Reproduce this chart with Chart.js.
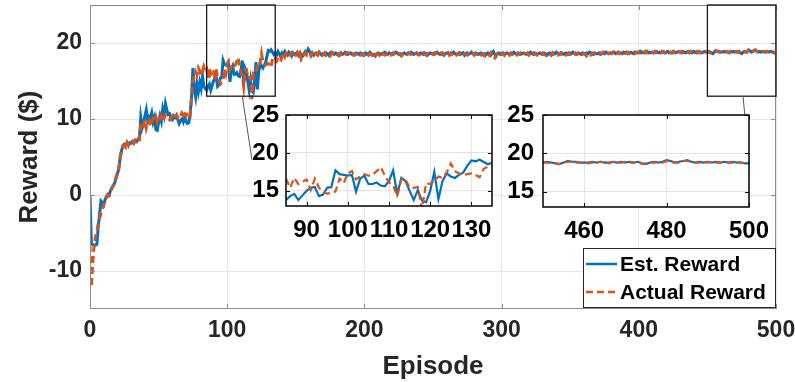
<!DOCTYPE html>
<html>
<head>
<meta charset="utf-8">
<script src="https://cdn.jsdelivr.net/npm/chart.js@4.4.0/dist/chart.umd.min.js"></script>
<style>
  html, body { margin: 0; padding: 0; background: #fff; }
  #wrap { position: relative; width: 795px; height: 382px; overflow: hidden; }
  canvas { position: absolute; }
</style>
</head>
<body>
<div id="wrap">
  <canvas id="main" width="795" height="382" style="left:0;top:0"></canvas>
  <canvas id="inset1" width="270" height="160" style="left:230px;top:90px"></canvas>
  <canvas id="inset2" width="315" height="160" style="left:480px;top:90px"></canvas>
</div>
<script>
// reward per episode (0..500)
const estReward = [
  0, -6.4, -6.5, -6.6, -6.6, -6.5, -4.2, -2.5, -0.8, -1.0,
  -1.3, -0.6, -0.2, 0.1, 0.0, 0.6, 1.0, 1.2, 1.6, 2.2,
  2.8, 3.4, 4.9, 5.8, 6.5, 6.7, 6.6, 6.8, 6.7, 6.9,
  6.8, 7.0, 6.9, 7.1, 7.0, 7.3, 7.4, 10.2, 8.9, 9.6,
  10.4, 11.2, 9.8, 10.3, 10.1, 10.8, 9.6, 10.2, 8.6, 8.5,
  9.5, 10.4, 9.7, 11.3, 10.5, 12.0, 11.2, 10.6, 10.7, 10.1,
  9.9, 10.4, 10.2, 10.5, 9.9, 9.4, 9.8, 10.0, 9.6, 10.3,
  9.7, 9.4, 9.5, 10.7, 12.8, 16.7, 13.9, 12.9, 14.6, 13.6,
  14.8, 14.0, 15.6, 14.3, 14.0, 13.8, 14.3, 14.6, 13.8, 14.4,
  15.0, 15.4, 15.5, 14.3, 14.5, 15.4, 15.5, 17.7, 17.2, 17.1,
  17.0, 17.1, 14.9, 16.6, 17.0, 15.9, 15.9, 16.1, 15.7, 15.6,
  16.3, 17.7, 14.6, 16.7, 16.3, 15.0, 13.8, 15.1, 13.7, 13.5,
  15.0, 17.5, 13.9, 16.3, 17.3, 16.9, 16.7, 17.1, 17.4, 18.3,
  19.0, 18.9, 19.1, 18.8, 18.5, 18.7, 18.4, 18.9, 18.6, 18.2,
  18.7, 18.5, 18.9, 18.6, 18.4, 18.8, 18.6, 18.3, 18.7, 18.5,
  18.6, 18.8, 18.4, 18.7, 18.5, 18.3, 18.6, 18.9, 18.8, 19.2,
  18.9, 18.5, 18.7, 18.4, 18.6, 18.7, 18.5, 18.8, 18.6, 18.4,
  18.6, 18.5, 18.7, 18.6, 18.4, 18.7, 18.8, 18.6, 18.5, 18.7,
  18.6, 18.4, 18.6, 18.7, 18.5, 18.6, 18.8, 18.7, 18.5, 18.6,
  18.7, 18.5, 18.4, 18.6, 18.7, 18.6, 18.5, 18.7, 18.6, 18.4,
  18.6, 18.7, 18.5, 18.6, 18.8, 18.6, 18.4, 18.5, 18.3, 18.6,
  18.7, 18.6, 18.5, 18.6, 18.7, 18.8, 18.6, 18.5, 18.7, 18.6,
  18.5, 18.7, 18.6, 18.8, 18.7, 18.5, 18.6, 18.4, 18.6, 18.7,
  18.6, 18.5, 18.7, 18.6, 18.8, 18.7, 18.5, 18.6, 18.7, 18.5,
  18.6, 18.7, 18.6, 18.5, 18.7, 18.6, 18.4, 18.6, 18.7, 18.6,
  18.5, 18.7, 18.6, 18.8, 18.6, 18.5, 18.7, 18.6, 18.4, 18.6,
  18.7, 18.6, 18.5, 18.7, 18.6, 18.8, 18.6, 18.5, 18.6, 18.7,
  18.5, 18.6, 18.7, 18.4, 18.6, 18.7, 18.5, 18.6, 18.8, 18.6,
  18.5, 18.7, 18.6, 18.5, 18.6, 18.7, 18.6, 18.4, 18.6, 18.5,
  18.7, 18.6, 18.4, 18.7, 18.9, 18.5, 18.3, 18.6, 18.7, 18.5,
  18.6, 18.7, 18.5, 18.6, 18.7, 18.6, 18.5, 18.7, 18.6, 18.8,
  18.6, 18.5, 18.7, 18.6, 18.5, 18.6, 18.7, 18.6, 18.5, 18.7,
  18.6, 18.8, 18.6, 18.5, 18.7, 18.6, 18.5, 18.6, 18.7, 18.6,
  18.5, 18.7, 18.6, 18.4, 18.6, 18.7, 18.6, 18.5, 18.7, 18.6,
  18.8, 18.6, 18.5, 18.7, 18.6, 18.5, 18.6, 18.7, 18.6, 18.5,
  18.7, 18.6, 18.8, 18.6, 18.5, 18.6, 18.7, 18.6, 18.5, 18.7,
  18.6, 18.5, 18.7, 18.6, 18.8, 18.7, 18.6, 18.5, 18.7, 18.6,
  18.6, 18.7, 18.5, 18.6, 18.7, 18.6, 18.8, 18.7, 18.6, 18.7,
  18.6, 18.7, 18.8, 18.6, 18.7, 18.8, 18.6, 18.7, 18.6, 18.8,
  18.7, 18.8, 18.6, 18.7, 18.8, 18.7, 18.6, 18.8, 18.7, 18.8,
  18.7, 18.9, 18.7, 18.8, 18.7, 18.8, 18.9, 18.7, 18.8, 18.7,
  18.8, 18.7, 18.9, 18.8, 18.7, 18.8, 18.7, 18.9, 18.8, 18.7,
  18.8, 18.9, 18.7, 18.8, 18.7, 18.9, 18.8, 18.7, 18.8, 18.9,
  18.8, 18.7, 18.9, 18.8, 18.7, 18.8, 18.9, 18.7, 18.8, 18.7,
  18.9, 18.8, 18.7, 18.8, 18.9, 18.8, 18.7, 18.8, 18.9, 18.8,
  18.8, 18.9, 18.8, 18.7, 18.6, 18.8, 19.0, 18.9, 18.9, 18.8,
  18.8, 18.8, 18.9, 18.8, 18.9, 18.8, 18.8, 18.9, 18.8, 18.9,
  18.8, 18.9, 18.8, 18.9, 18.7, 18.6, 18.8, 18.9, 18.8, 18.9,
  19.1, 19.0, 18.8, 18.9, 19.0, 19.1, 18.9, 18.8, 18.9, 18.8,
  18.9, 18.8, 18.9, 18.8, 18.9, 18.8, 18.9, 18.8, 18.8, 18.7,
  18.7
];

const actualReward = [
  -6.6, -12.1, -9.0, -6.6, -5.5, -4.8, -3.7, -3.1, -2.4, -1.8,
  -1.2, -0.8, -0.4, 0.0, -0.1, 0.5, 0.9, 1.3, 1.7, 2.3,
  2.9, 3.6, 5.0, 6.0, 6.4, 6.6, 6.3, 6.9, 6.5, 7.0,
  6.9, 7.1, 6.8, 7.2, 7.0, 7.4, 7.3, 9.3, 9.6, 9.2,
  9.9, 8.8, 9.5, 9.8, 9.0, 9.7, 10.1, 9.9, 10.3, 9.6,
  10.2, 10.0, 10.4, 9.8, 10.1, 10.6, 10.3, 10.1, 9.9, 10.2,
  10.4, 10.0, 10.3, 10.5, 10.2, 10.6, 10.4, 10.8, 10.5, 11.0,
  10.4, 10.9, 10.7, 10.5, 12.9, 15.0, 15.6, 16.2, 15.8, 16.7,
  16.3, 15.7, 16.2, 16.9, 16.4, 16.6, 15.4, 16.7, 15.9, 16.2,
  16.5, 15.1, 16.6, 15.4, 15.0, 14.6, 14.8, 14.9, 16.6, 16.0,
  17.3, 17.6, 16.5, 16.9, 17.2, 17.0, 17.1, 17.6, 18.1, 17.0,
  16.1, 15.7, 14.3, 16.5, 16.5, 15.4, 15.4, 15.5, 12.6, 16.0,
  15.9, 16.3, 16.9, 16.7, 17.4, 18.6, 17.6, 17.3, 17.1, 17.2,
  17.3, 17.1, 16.8, 17.9, 18.2, 18.2, 17.6, 17.8, 17.5, 17.6,
  18.3, 18.6, 18.2, 18.7, 18.5, 18.1, 18.4, 18.7, 18.3, 18.6,
  18.4, 18.7, 18.2, 18.6, 17.8, 18.0, 18.5, 18.7, 18.4, 18.6,
  18.6, 18.3, 18.7, 18.5, 18.2, 18.6, 18.4, 18.7, 18.5, 18.3,
  18.5, 18.7, 18.4, 18.6, 18.5, 18.3, 18.6, 18.7, 18.4, 18.6,
  18.5, 18.6, 18.4, 18.7, 18.5, 18.4, 18.6, 18.5, 18.7, 18.4,
  18.6, 18.5, 18.6, 18.4, 18.5, 18.7, 18.6, 18.4, 18.5, 18.6,
  18.4, 18.5, 18.7, 18.4, 18.6, 18.5, 18.3, 18.0, 18.4, 18.5,
  18.6, 18.4, 18.7, 18.5, 18.6, 18.4, 18.5, 18.7, 18.5, 18.4,
  18.6, 18.5, 18.7, 18.6, 18.4, 18.6, 18.5, 18.3, 18.5, 18.6,
  18.5, 18.4, 18.6, 18.7, 18.5, 18.6, 18.4, 18.5, 18.7, 18.5,
  18.4, 18.6, 18.5, 18.7, 18.5, 18.4, 18.6, 18.5, 18.6, 18.4,
  18.6, 18.5, 18.7, 18.5, 18.4, 18.6, 18.5, 18.7, 18.5, 18.4,
  18.5, 18.7, 18.4, 18.6, 18.5, 18.7, 18.5, 18.4, 18.6, 18.5,
  18.7, 18.5, 18.4, 18.6, 18.5, 18.4, 18.6, 18.7, 18.5, 18.6,
  18.4, 18.6, 18.5, 18.7, 18.5, 18.4, 18.6, 18.5, 18.3, 18.5,
  18.6, 18.4, 18.7, 18.2, 17.9, 18.0, 18.4, 18.6, 18.5, 18.7,
  18.5, 18.6, 18.4, 18.7, 18.5, 18.6, 18.4, 18.6, 18.5, 18.7,
  18.5, 18.4, 18.6, 18.5, 18.7, 18.5, 18.4, 18.6, 18.5, 18.6,
  18.4, 18.6, 18.5, 18.7, 18.5, 18.6, 18.4, 18.5, 18.6, 18.5,
  18.7, 18.5, 18.4, 18.6, 18.5, 18.6, 18.4, 18.7, 18.5, 18.6,
  18.5, 18.4, 18.6, 18.5, 18.7, 18.5, 18.6, 18.4, 18.5, 18.7,
  18.5, 18.6, 18.4, 18.5, 18.7, 18.5, 18.6, 18.4, 18.6, 18.5,
  18.6, 18.5, 18.3, 18.5, 18.6, 18.4, 18.5, 18.7, 18.6, 18.5,
  18.6, 18.5, 18.7, 18.6, 18.8, 18.6, 18.7, 18.5, 18.6, 18.7,
  18.6, 18.8, 18.6, 18.7, 18.6, 18.8, 18.7, 18.6, 18.8, 18.7,
  18.6, 18.7, 18.8, 18.6, 18.7, 18.8, 18.7, 18.6, 18.8, 18.7,
  18.8, 18.7, 18.6, 18.8, 18.7, 18.9, 18.7, 18.8, 18.7, 18.6,
  18.8, 18.7, 18.8, 18.9, 18.7, 18.8, 18.7, 18.8, 18.9, 18.7,
  18.8, 18.7, 18.9, 18.7, 18.8, 18.7, 18.9, 18.8, 18.7, 18.8,
  18.9, 18.8, 18.7, 18.8, 18.9, 18.7, 18.8, 18.7, 18.9, 18.8,
  18.7, 18.8, 18.9, 18.7, 18.8, 18.7, 18.9, 18.8, 18.7, 18.8,
  18.8, 18.8, 18.7, 18.7, 18.6, 18.8, 18.9, 18.9, 18.8, 18.8,
  18.8, 18.7, 18.8, 18.8, 18.9, 18.8, 18.7, 18.9, 18.8, 18.8,
  18.9, 18.8, 18.8, 18.9, 18.6, 18.7, 18.8, 18.8, 18.9, 18.8,
  19.0, 18.9, 18.8, 18.8, 19.0, 19.0, 18.9, 18.8, 18.8, 18.9,
  18.8, 18.9, 18.8, 18.8, 18.9, 18.8, 18.8, 18.9, 18.8, 18.7,
  18.8
];

const seriesLabels = ['Est. Reward', 'Actual Reward'];
const mainXTicks = [0, 100, 200, 300, 400, 500];
const mainYTicks = [-10, 0, 10, 20];
const zoomY = [13, 25];
const inset1X = [85, 135];
const inset2X = [450, 500];
const inset1XTicks = [90, 100, 110, 120, 130];
const inset2XTicks = [460, 480, 500];
const insetYTicks = [15, 20, 25];

const BLUE = '#0072BD';
const ORANGE = '#D95319';
const FONT = "'Liberation Sans', Arial, Helvetica, sans-serif";

const toPoints = (arr, lo, hi) => {
    const pts = [];
    for (let i = 0; i < arr.length; i++) {
        if (lo === undefined || (i >= lo && i <= hi)) pts.push({x: i, y: arr[i]});
    }
    return pts;
};

const setTicks = (vals) => (scale) => { scale.ticks = vals.map(v => ({value: v})); };

// fixed axis size, and no extra room for edge labels (chart area comes from layout padding)
const fixSize = (w, h) => (s) => {
    if (w !== null) s.width = w;
    if (h !== null) s.height = h;
    s.paddingTop = 0; s.paddingBottom = 0; s.paddingLeft = 0; s.paddingRight = 0;
};

// axes box, inner tick marks, zoom windows, connectors and legend
const mainDecor = {
    id: 'mainDecor',
    afterDraw(chart) {
        const {ctx, chartArea: a, scales: {x, y}} = chart;
        ctx.save();
        ctx.strokeStyle = '#8c8c8c';
        ctx.lineWidth = 1;
        ctx.beginPath();
        mainXTicks.forEach(v => {
            const px = Math.round(x.getPixelForValue(v)) + 0.5;
            ctx.moveTo(px, a.bottom); ctx.lineTo(px, a.bottom - 5);
            ctx.moveTo(px, a.top); ctx.lineTo(px, a.top + 5);
        });
        mainYTicks.forEach(v => {
            const py = Math.round(y.getPixelForValue(v)) + 0.5;
            ctx.moveTo(a.left, py); ctx.lineTo(a.left + 5, py);
            ctx.moveTo(a.right, py); ctx.lineTo(a.right - 5, py);
        });
        ctx.stroke();
        ctx.strokeRect(a.left + 0.5, a.top + 0.5, a.right - a.left - 1, a.bottom - a.top - 1);

        // zoom windows
        ctx.strokeStyle = '#1a1a1a';
        ctx.lineWidth = 1.3;
        [inset1X, inset2X].forEach(r => {
            const x0 = x.getPixelForValue(r[0]), x1 = x.getPixelForValue(r[1]);
            const y0 = y.getPixelForValue(zoomY[1]), y1 = y.getPixelForValue(zoomY[0]);
            ctx.strokeRect(x0, y0, x1 - x0, y1 - y0);
        });
        // connectors to insets
        ctx.strokeStyle = '#555';
        ctx.lineWidth = 1;
        ctx.beginPath();
        ctx.moveTo(x.getPixelForValue(111), y.getPixelForValue(zoomY[0]));
        ctx.lineTo(252, 160);
        ctx.moveTo(x.getPixelForValue(476), y.getPixelForValue(zoomY[0]));
        ctx.lineTo(749, 162);
        ctx.stroke();

        // legend
        const lw = 193, lh = 60;
        const lx = a.right - lw, ly = a.bottom - lh - 1;
        ctx.fillStyle = '#fff';
        ctx.fillRect(lx, ly, lw, lh);
        ctx.strokeStyle = '#262626';
        ctx.lineWidth = 1;
        ctx.strokeRect(lx + 0.5, ly + 0.5, lw - 1, lh - 1);
        chart.data.datasets.forEach((ds, i) => {
            const cy = ly + 16 + i * 28;
            ctx.beginPath();
            ctx.strokeStyle = ds.borderColor;
            ctx.lineWidth = 2.5;
            ctx.setLineDash(ds.borderDash || []);
            ctx.moveTo(lx + 3, cy); ctx.lineTo(lx + 34, cy);
            ctx.stroke();
            ctx.setLineDash([]);
            ctx.fillStyle = '#000';
            ctx.font = 'bold 21px ' + FONT;
            ctx.textBaseline = 'middle';
            ctx.textAlign = 'left';
            ctx.fillText(ds.label, lx + 37, cy + 1);
        });
        ctx.restore();
    }
};

const insetDecor = {
    id: 'insetDecor',
    beforeDraw(chart) {
        const {ctx, chartArea: a} = chart;
        ctx.save();
        ctx.fillStyle = '#fff';
        ctx.fillRect(a.left, a.top, a.right - a.left, a.bottom - a.top);
        ctx.restore();
    },
    afterDraw(chart) {
        const {ctx, chartArea: a, scales: {x, y}} = chart;
        ctx.save();
        ctx.strokeStyle = '#000';
        ctx.lineWidth = 1;
        ctx.beginPath();
        x.ticks.forEach(t => {
            const px = Math.round(x.getPixelForValue(t.value)) + 0.5;
            ctx.moveTo(px, a.bottom); ctx.lineTo(px, a.bottom - 4);
            ctx.moveTo(px, a.top); ctx.lineTo(px, a.top + 4);
        });
        y.ticks.forEach(t => {
            const py = Math.round(y.getPixelForValue(t.value)) + 0.5;
            ctx.moveTo(a.left, py); ctx.lineTo(a.left + 4, py);
            ctx.moveTo(a.right, py); ctx.lineTo(a.right - 4, py);
        });
        ctx.stroke();
        ctx.lineWidth = 1.5;
        ctx.strokeRect(a.left, a.top, a.right - a.left, a.bottom - a.top);
        ctx.restore();
    }
};

const makeDatasets = (lo, hi, width) => [
    {label: seriesLabels[0], data: toPoints(estReward, lo, hi), borderColor: BLUE, borderWidth: width,
     pointRadius: 0, tension: 0, order: 2},
    {label: seriesLabels[1], data: toPoints(actualReward, lo, hi), borderColor: ORANGE, borderWidth: width,
     borderDash: [7, 4], pointRadius: 0, tension: 0, order: 1}
];

new Chart(document.getElementById('main'), {
    type: 'line',
    data: {datasets: makeDatasets(undefined, undefined, 3)},
    options: {
        responsive: false,
        animation: false,
        layout: {padding: {top: 5, right: 19, left: 0, bottom: 0}},
        plugins: {legend: {display: false}, tooltip: {enabled: false}},
        scales: {
            x: {
                type: 'linear', min: 0, max: 500,
                afterBuildTicks: setTicks(mainXTicks),
                afterFit: fixSize(null, 73),
                grid: {color: '#e6e6e6', drawTicks: false},
                border: {display: false},
                ticks: {padding: 8, color: '#262626', font: {family: FONT, size: 23, weight: 'bold'}, maxRotation: 0},
                title: {display: true, text: 'Episode', color: '#262626', padding: {top: 0, bottom: 0},
                        font: {family: FONT, size: 26, weight: 'bold', lineHeight: 1.2}}
            },
            y: {
                type: 'linear', min: -15, max: 25,
                afterBuildTicks: setTicks(mainYTicks),
                afterFit: fixSize(90, null),
                grid: {color: '#e6e6e6', drawTicks: false},
                border: {display: false},
                ticks: {padding: 8, color: '#262626', font: {family: FONT, size: 23, weight: 'bold'}},
                title: {display: true, text: 'Reward ($)', color: '#262626', padding: {top: 14, bottom: 0},
                        font: {family: FONT, size: 26, weight: 'bold', lineHeight: 1.2}}
            }
        }
    },
    plugins: [mainDecor]
});

const makeInset = (id, range, xTicks, yWidth, padRight, xHeight, yPad) => {
    new Chart(document.getElementById(id), {
        type: 'line',
        data: {datasets: makeDatasets(range[0], range[1], 2.2)},
        options: {
            responsive: false,
            animation: false,
            layout: {padding: {top: 25, right: padRight, left: 0, bottom: 0}},
            plugins: {legend: {display: false}, tooltip: {enabled: false}},
            scales: {
                x: {
                    type: 'linear', min: range[0], max: range[1],
                    afterBuildTicks: setTicks(xTicks),
                    afterFit: fixSize(null, xHeight),
                    grid: {color: '#e3e3e3', drawTicks: false},
                    border: {display: false},
                    ticks: {padding: 10, color: '#000', font: {family: FONT, size: 24, weight: 'bold'}, maxRotation: 0, autoSkip: false}
                },
                y: {
                    type: 'linear', min: zoomY[0], max: zoomY[1],
                    afterBuildTicks: setTicks(insetYTicks),
                    afterFit: fixSize(yWidth, null),
                    grid: {color: '#e3e3e3', drawTicks: false},
                    border: {display: false},
                    ticks: {padding: yPad, color: '#000', font: {family: FONT, size: 24, weight: 'bold'}}
                }
            }
        },
        plugins: [insetDecor]
    });
};

makeInset('inset1', inset1X, inset1XTicks, 56, 8, 44, 7);
makeInset('inset2', inset2X, inset2XTicks, 63, 46, 43, 9);
</script>
</body>
</html>
